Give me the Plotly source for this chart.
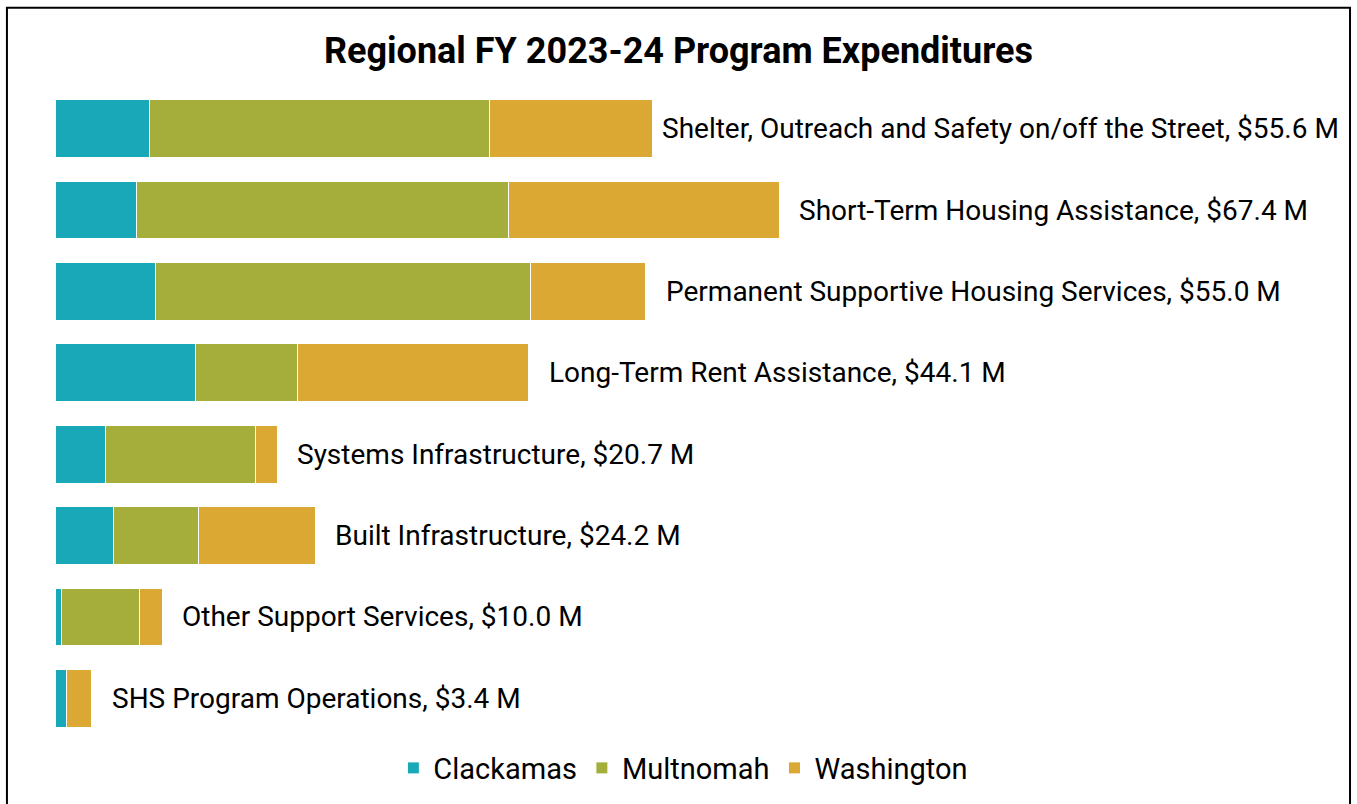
import plotly.graph_objects as go

categories = [
    "Shelter, Outreach and Safety on/off the Street",
    "Short-Term Housing Assistance",
    "Permanent Supportive Housing Services",
    "Long-Term Rent Assistance",
    "Systems Infrastructure",
    "Built Infrastructure",
    "Other Support Services",
    "SHS Program Operations",
]
totals = [55.6, 67.4, 55.0, 44.1, 20.7, 24.2, 10.0, 3.4]
clackamas = [8.8, 7.6, 9.4, 13.1, 4.7, 5.4, 0.6, 1.1]
multnomah = [31.6, 34.6, 34.9, 9.5, 14.0, 8.0, 7.3, 0.0]
washington = [15.2, 25.2, 10.7, 21.5, 2.0, 10.8, 2.1, 2.3]

series = [("Clackamas", clackamas, "#18A8B8"),
          ("Multnomah", multnomah, "#A6AE3B"),
          ("Washington", washington, "#DAA833")]

FONT = "Roboto"
LABEL_SIZE = 28

fig = go.Figure()
for name, vals, col in series:
    fig.add_trace(go.Bar(
        y=categories, x=vals, name=name, orientation="h",
        marker=dict(color=col, line=dict(color="white", width=1)),
        hoverinfo="x+name",
    ))

for i, (cat, tot) in enumerate(zip(categories, totals)):
    text = f"{cat}, ${tot:.1f} M"
    if i == 0:
        fig.add_annotation(x=1.001, xref="paper", y=cat, yref="y", text=text,
                           xanchor="right", yanchor="middle", showarrow=False,
                           font=dict(family=FONT, size=LABEL_SIZE, color="black"))
    else:
        fig.add_annotation(x=tot, y=cat, text=text, xanchor="left", yanchor="middle",
                           xshift=18, showarrow=False,
                           font=dict(family=FONT, size=LABEL_SIZE, color="black"))

fig.add_shape(type="rect", xref="paper", yref="paper",
              x0=-0.0374, x1=1.0078, y0=-0.2, y1=1.1233,
              line=dict(color="black", width=2), fillcolor="rgba(0,0,0,0)", layer="above")

fig.update_layout(
    width=1357, height=804,
    barmode="stack", bargap=0.29,
    paper_bgcolor="white", plot_bgcolor="white",
    margin=dict(l=55, r=17, t=88, b=64),
    title=dict(text="<b>Regional FY 2023-24 Program Expenditures</b>", x=0.5, xanchor="center",
               y=1 - 50 / 804, yanchor="middle", font=dict(family=FONT, size=36, color="black")),
    xaxis=dict(range=[0, 119.6], visible=False, fixedrange=True),
    yaxis=dict(categoryorder="array", categoryarray=categories, autorange="reversed",
               visible=False),
    legend=dict(orientation="h", x=0.489, xanchor="center", y=-0.043, yanchor="middle",
                font=dict(family=FONT, size=29, color="black"), traceorder="normal"),
    font=dict(family=FONT),
    showlegend=True,
)

fig.write_html("out.html", config={"displayModeBar": False},
               post_script="document.body.style.margin='0';document.body.style.overflow='hidden';")
